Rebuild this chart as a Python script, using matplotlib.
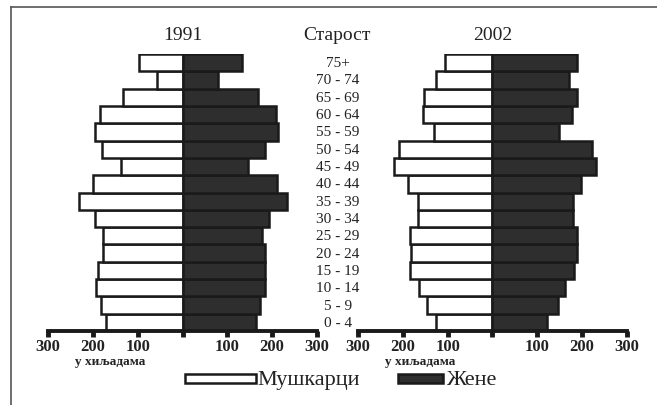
import matplotlib
matplotlib.use("Agg")
import matplotlib.pyplot as plt
from matplotlib.lines import Line2D
from matplotlib.patches import Rectangle

plt.rcParams['font.family'] = ['Liberation Serif', 'DejaVu Serif']

ages = ['0 - 4', '5 - 9', '10 - 14', '15 - 19', '20 - 24', '25 - 29', '30 - 34', '35 - 39',
        '40 - 44', '45 - 49', '50 - 54', '55 - 59', '60 - 64', '65 - 69', '70 - 74', '75+']
male_1991 = [170, 181, 193, 189, 178, 178, 196, 230, 200, 138, 179, 196, 184, 133, 57, 96]
female_1991 = [163, 172, 185, 185, 185, 178, 194, 232, 210, 145, 185, 213, 208, 169, 79, 132]
male_2002 = [126, 147, 163, 185, 181, 185, 167, 167, 189, 219, 208, 130, 154, 152, 127, 107]
female_2002 = [121, 146, 161, 182, 188, 188, 180, 180, 198, 231, 221, 149, 177, 188, 170, 188]
years = ['1991', '2002']
ticks = [-300, -200, -100, 0, 100, 200, 300]
tick_labels = ['300', '200', '100', '', '100', '200', '300']

W, H = 657, 406
fig = plt.figure(figsize=(W / 100, H / 100), dpi=100)
fig.patch.set_facecolor('white')


def fx(x):
    return x / W


def fy(y):
    return 1 - y / H


ink = '#1a1a1a'
dark = '#2e2e2e'
panels = [(48, male_1991, female_1991), (358, male_2002, female_2002)]
pos = list(range(len(ages)))

for (left_px, males, females), year in zip(panels, years):
    ax = fig.add_axes([fx(left_px), fy(332), 269 / W, 277 / H])
    ax.barh(pos, [-m for m in males], height=1, color='white', edgecolor=ink, linewidth=1.8)
    ax.barh(pos, females, height=1, color=dark, edgecolor=ink, linewidth=1.8)
    ax.set_xlim(-300, 300)
    ax.set_ylim(-0.5, len(ages) - 0.5)
    for s in ['top', 'left', 'right']:
        ax.spines[s].set_visible(False)
    ax.spines['bottom'].set_linewidth(2.8)
    ax.spines['bottom'].set_color(ink)
    ax.set_yticks([])
    ax.set_xticks(ticks)
    ax.set_xticklabels(tick_labels, fontsize=12, fontweight='bold', color='#222222')
    ax.tick_params(axis='x', direction='out', length=4, width=3.5, color=ink, pad=1)
    ax.set_facecolor('none')
    cx = left_px + 134.5
    fig.text(fx(cx), fy(35), year, ha='center', va='center', fontsize=14, color='#222222')
    fig.text(fx(left_px + 62), fy(362), 'у хиљадама', ha='center', va='center',
             fontsize=9.5, fontweight='bold', color='#222222')

# age column
fig.text(fx(337), fy(35), 'Старост', ha='center', va='center', fontsize=14, color='#222222')
for i, lab in enumerate(ages):
    yc = 332 - (i + 0.5) * 277 / len(ages)
    fig.text(fx(338), fy(yc), lab, ha='center', va='center', fontsize=11, color='#222222')

# legend
fig.patches.append(Rectangle((fx(185), fy(384)), 71 / W, 9 / H, transform=fig.transFigure,
                             facecolor='white', edgecolor=ink, linewidth=1.8))
fig.text(fx(257), fy(381), 'Мушкарци', ha='left', va='center', fontsize=16, color='#222222')
fig.patches.append(Rectangle((fx(398), fy(384)), 45 / W, 9 / H, transform=fig.transFigure,
                             facecolor=dark, edgecolor=ink, linewidth=1.8))
fig.text(fx(446), fy(381), 'Жене', ha='left', va='center', fontsize=16, color='#222222')

# scan frame
fig.add_artist(Line2D([fx(11), fx(11)], [fy(8), 0], transform=fig.transFigure,
                      color='#555555', linewidth=1.2))
fig.add_artist(Line2D([fx(11), 1], [fy(8), fy(8)], transform=fig.transFigure,
                      color='#555555', linewidth=1.2))

fig.savefig('out.png', dpi=100)
